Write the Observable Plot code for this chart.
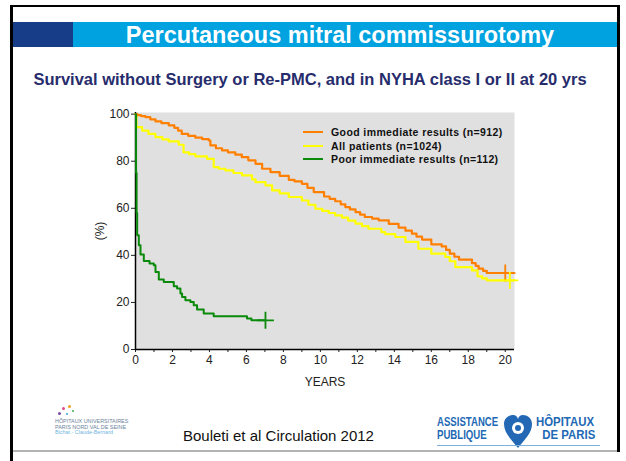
<!DOCTYPE html>
<html><head><meta charset="utf-8">
<script src="https://cdn.jsdelivr.net/npm/d3@7"></script>
<script src="https://cdn.jsdelivr.net/npm/@observablehq/plot@0.6"></script>
<style>
body{margin:0;width:626px;height:461px;position:relative;background:#fff;font-family:"Liberation Sans",Arial,sans-serif;overflow:hidden}
.abs{position:absolute;white-space:nowrap}
.leg{position:absolute;left:303px;width:20px;height:2px}
.legt{position:absolute;left:331px;font-weight:bold;font-size:10.5px;letter-spacing:0.4px;color:#111;line-height:12px}
</style></head><body>
<script>
// ---- data ----
const xTicks = d3.range(0, 21, 1);
const yTicks = [0, 20, 40, 60, 80, 100];
const seriesNames = ["Good immediate results (n=912)", "All patients (n=1024)", "Poor immediate results (n=112)"];
const seriesColors = ["#ff8000", "#ffff00", "#0a8a0a"];

const goodYears = [0,0.1,0.3,0.54,0.8,1.08,1.4,1.8,2.1,2.3,2.5,2.85,3.24,3.6,3.96,4.05,4.35,4.68,5.0,5.4,5.75,6.1,6.49,6.85,7.3,7.8,8.29,8.6,9.0,9.3,9.64,10.2,10.5,10.8,11.1,11.35,11.6,11.9,12.15,12.4,12.8,13.15,13.7,14.23,14.6,14.95,15.2,15.5,16.0,16.56,16.8,17.0,17.25,17.5,18.2,18.4,18.56,18.8,19.0,20.5];
const goodPct = [100,99.6,99.2,98.7,97.8,96.9,96.2,95.2,94.2,93.0,91.6,90.8,90.0,89.4,88.8,86.7,85.5,84.6,83.8,82.8,81.7,80.4,78.9,76.8,75.4,73.8,72.1,71.4,70.4,68.7,66.9,65.0,64.0,63.0,61.7,60.5,59.5,58.4,57.3,56.3,55.6,54.9,53.4,51.8,50.5,49.2,48.0,46.7,44.7,43.8,42.3,40.7,39.4,38.2,36.7,35.5,34.4,33.4,32.5,32.5];

const allYears = [0,0.05,0.36,0.7,1.08,1.45,1.8,2.34,2.6,2.9,3.24,3.87,4.23,4.5,4.86,5.3,5.76,6.3,6.49,7.03,7.39,7.8,8.29,9.0,9.35,9.73,10.1,10.45,10.8,11.17,11.5,11.9,12.25,12.6,13.3,13.51,14.05,14.6,15.3,16.0,16.76,17.0,17.3,18.2,18.5,18.75,19.0,20.5];
const allPct = [100,94.5,93.0,91.6,90.2,89.3,88.4,87.0,83.8,83.0,82.1,81.0,77.5,76.8,76.1,75.0,74.0,72.3,71.1,69.7,67.6,66.3,64.8,63.3,61.5,59.8,58.9,58.0,57.0,56.0,54.8,53.5,52.4,51.3,49.9,49.0,47.8,45.7,42.8,40.7,39.3,37.5,35.0,33.6,31.1,30.2,29.4,29.4];

const poorYears = [0,0.03,0.06,0.09,0.18,0.27,0.45,0.76,0.99,1.08,1.26,1.53,2.07,2.25,2.43,2.52,2.7,2.97,3.15,3.33,3.69,4.23,6.03,6.27,7.03];
const poorPct = [100,75,58,48.5,44.3,40.4,37.6,36.5,35.8,32.9,29.7,28.7,26.9,25.9,23.8,22.3,20.9,20.2,18.8,17.0,15.3,14.1,13.2,12.4,12.4];

const censorYears = [20.0, 20.25, 7.03];
const censorPct = [32.5, 29.4, 12.4];
</script>

<!-- slide frame -->
<div class="abs" style="left:10px;top:5px;width:610px;height:2px;background:#000"></div>
<div class="abs" style="left:10px;top:5px;width:3px;height:456px;background:#000"></div>
<div class="abs" style="left:617px;top:5px;width:3px;height:447px;background:#000"></div>
<div class="abs" style="left:13px;top:450px;width:604px;height:2px;background:#b4b4b4"></div>

<!-- title bar -->
<div class="abs" style="left:13px;top:22px;width:60px;height:25px;background:#173c88"></div>
<div class="abs" style="left:73px;top:22px;width:544px;height:25px;background:#00a2e0"></div>
<div class="abs" style="left:40px;top:22px;width:600px;height:25px;line-height:26px;text-align:center;color:#fff;font-weight:bold;font-size:23.5px">Percutaneous mitral commissurotomy</div>

<div class="abs" style="left:0px;top:70px;width:620px;text-align:center;color:#272c6c;font-weight:bold;font-size:16.5px;line-height:19px">Survival without Surgery or Re-PMC, and in NYHA class I or II at 20 yrs</div>

<div id="chart" class="abs" style="left:0;top:95px"></div>

<div id="legend"></div>

<!-- footer -->
<div class="abs" style="left:183px;top:427px;font-size:15px;color:#111;line-height:18px">Bouleti et al Circulation 2012</div>

<!-- left logo (approximation) -->
<div class="abs" style="left:62px;top:407px;width:3px;height:3px;border-radius:2px;background:#e04a8a"></div>
<div class="abs" style="left:68px;top:405px;width:3px;height:3px;border-radius:2px;background:#f0a020"></div>
<div class="abs" style="left:58px;top:412px;width:3px;height:3px;border-radius:2px;background:#7a4aa8"></div>
<div class="abs" style="left:66px;top:413px;width:2px;height:2px;border-radius:2px;background:#3aa0d8"></div>
<div class="abs" style="left:72px;top:410px;width:2px;height:2px;border-radius:2px;background:#40b050"></div>
<div class="abs" style="left:55px;top:419px;font-size:4.5px;line-height:5.5px;color:#6a7f9a;transform:scaleX(1.2);transform-origin:left">HÔPITAUX UNIVERSITAIRES<br>PARIS NORD VAL DE SEINE<br><span style="color:#6fb6e0">Bichat - Claude-Bernard</span></div>

<!-- right logo (approximation) -->
<div class="abs" style="left:437px;top:416px;font-weight:bold;font-size:12px;line-height:13px;color:#2268b4;transform:scaleX(0.8);transform-origin:left">ASSISTANCE<br>PUBLIQUE</div>
<div class="abs" style="left:536px;top:416px;font-weight:bold;font-size:12px;line-height:13px;color:#2268b4;transform:scaleX(0.95);transform-origin:left">HÔPITAUX<br>&nbsp;&nbsp;DE&nbsp;PARIS</div>
<svg class="abs" style="left:503px;top:413px" width="30" height="36" viewBox="0 0 30 36">
<path d="M15 35 C 8 26, 1 20, 1 11 C 1 5, 6 2, 10 2 C 13 2, 14.5 4, 15 6 C 15.5 4, 17 2, 20 2 C 24 2, 29 5, 29 11 C 29 20, 22 26, 15 35 Z" fill="#2268b4"/>
<circle cx="15" cy="15" r="6" fill="#fff"/>
<circle cx="15" cy="15" r="3" fill="#2268b4"/>
</svg>
<div class="abs" style="left:437px;top:445px;width:163px;height:1px;background:#7fb0dc"></div>

<script>
const rows = (ts, vs, name) => ts.map((t, i) => ({t, s: vs[i], name}));
const good = rows(goodYears, goodPct, seriesNames[0]);
const all = rows(allYears, allPct, seriesNames[1]);
const poor = rows(poorYears, poorPct, seriesNames[2]);
const censor = censorYears.map((t, i) => ({t, s: censorPct[i], c: seriesColors[i]}));

const chart = Plot.plot({
  width: 626, height: 300,
  marginLeft: 135, marginRight: 112, marginTop: 17, marginBottom: 46,
  style: {background: "transparent", fontFamily: "Liberation Sans, Arial, sans-serif", fontSize: "12px", color: "#222"},
  x: {domain: [0, 20.5]},
  y: {domain: [0, 100.7]},
  marks: [
    Plot.frame({fill: "#e0e0e0", stroke: null}),
    Plot.axisY({ticks: yTicks, tickSize: 4, tickPadding: 2, label: "(%)", labelAnchor: "center", labelOffset: 40, labelArrow: "none", fontSize: 12}),
    Plot.axisX({ticks: xTicks, tickSize: 3, tickPadding: 3, tickFormat: d => d % 2 === 0 ? d : "", label: "YEARS", labelAnchor: "center", labelOffset: 36, labelArrow: "none", fontSize: 12}),
    Plot.ruleX([0], {stroke: "#000", strokeWidth: 1.5}),
    Plot.ruleY([0], {stroke: "#000", strokeWidth: 1.5}),
    Plot.line(all, {x: "t", y: "s", curve: "step-after", stroke: seriesColors[1], strokeWidth: 2.2}),
    Plot.line(good, {x: "t", y: "s", curve: "step-after", stroke: seriesColors[0], strokeWidth: 2.2}),
    Plot.line(poor, {x: "t", y: "s", curve: "step-after", stroke: seriesColors[2], strokeWidth: 2}),
    Plot.dot(censor, {x: "t", y: "s", symbol: "plus", r: 5.5, stroke: "c", strokeWidth: 1.8})
  ]
});
document.getElementById("chart").appendChild(chart);

const legend = document.getElementById("legend");
const legTops = [131, 145, 158];
seriesNames.forEach((n, i) => {
  const ln = document.createElement("div");
  ln.className = "leg"; ln.style.top = legTops[i] + "px"; ln.style.background = seriesColors[i];
  legend.appendChild(ln);
  const tx = document.createElement("div");
  tx.className = "legt"; tx.style.top = (legTops[i] - 5) + "px"; tx.textContent = n;
  legend.appendChild(tx);
});
</script>
</body></html>
